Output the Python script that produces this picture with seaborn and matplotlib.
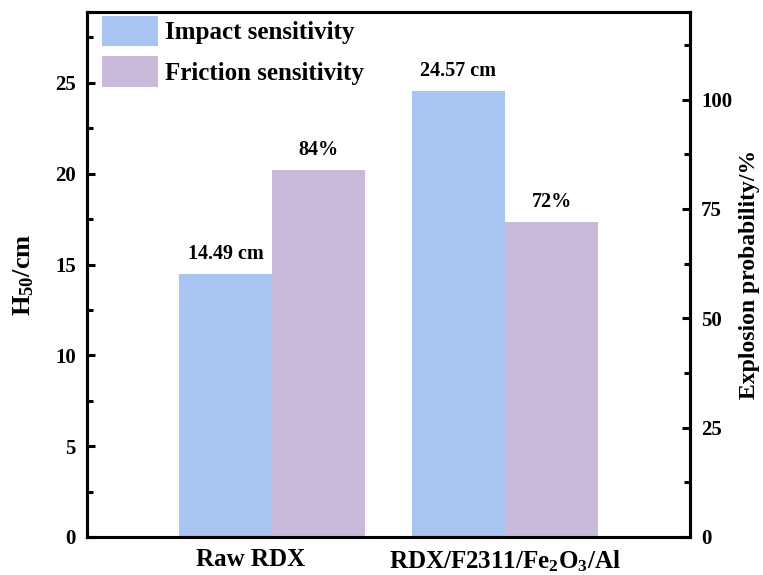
import matplotlib
matplotlib.use("Agg")
import matplotlib.pyplot as plt
import seaborn as sns
import pandas as pd
from matplotlib.patches import Patch
from matplotlib.ticker import MultipleLocator

samples = ["Raw RDX", r"RDX/F2311/Fe$_2$O$_3$/Al"]
impact_h50 = [14.49, 24.57]          # H50, cm
friction_prob = [84, 72]             # explosion probability, %
metrics = ["Impact sensitivity", "Friction sensitivity"]
impact_labels = ["14.49 cm", "24.57 cm"]
friction_labels = ["84%", "72%"]
# category tick texts (first one padded so it sits a little left of its group)
tick_texts = ["Raw RDX       ", r"RDX/F2311/Fe$_2$O$_3$/Al"]

colors = {"Impact sensitivity": "#A7C4F2", "Friction sensitivity": "#C9B9DB"}

sns.set_theme(style="white")
plt.rcParams["font.family"] = ["Liberation Serif", "DejaVu Serif"]
plt.rcParams["font.weight"] = "bold"
plt.rcParams["text.color"] = "black"
plt.rcParams["axes.labelcolor"] = "black"
plt.rcParams["xtick.color"] = "black"
plt.rcParams["ytick.color"] = "black"
plt.rcParams["mathtext.fontset"] = "custom"
plt.rcParams["mathtext.rm"] = "Liberation Serif:bold"
plt.rcParams["mathtext.it"] = "Liberation Serif:bold"
plt.rcParams["mathtext.bf"] = "Liberation Serif:bold"
plt.rcParams["mathtext.default"] = "rm"

df_imp = pd.DataFrame({"sample": samples, "metric": metrics[0], "value": impact_h50})
df_fric = pd.DataFrame({"sample": samples, "metric": metrics[1], "value": friction_prob})

fig = plt.figure(figsize=(7.63, 5.75), dpi=100)
ax1 = fig.add_axes([87 / 763, 1 - 537 / 575, (690 - 87) / 763, (537 - 12) / 575])
ax2 = ax1.twinx()

sns.barplot(data=df_imp, x="sample", y="value", hue="metric", hue_order=metrics,
            order=samples, palette=colors, dodge=True, width=0.8, ax=ax1,
            saturation=1, legend=False, linewidth=0)
sns.barplot(data=df_fric, x="sample", y="value", hue="metric", hue_order=metrics,
            order=samples, palette=colors, dodge=True, width=0.8, ax=ax2,
            saturation=1, legend=False, linewidth=0)

ax1.set_xlim(-0.794, 1.794)
ax1.set_ylim(0, 28.9)
ax2.set_ylim(0, 120)


def label_bars(ax, labels):
    bars = sorted([p for p in ax.patches if p.get_height() > 0], key=lambda p: p.get_x())
    for p, text in zip(bars, labels):
        ax.annotate(text, (p.get_x() + p.get_width() / 2, p.get_height()),
                    xytext=(0, 7), textcoords="offset points", ha="center", va="bottom",
                    fontsize=14.5, fontweight="bold", color="black")


label_bars(ax1, impact_labels)
label_bars(ax2, friction_labels)

ax1.set_xlabel("")
ax1.set_xticks(range(len(samples)))
ax1.set_xticklabels(tick_texts)
ax1.set_ylabel(r"H$_{50}$/cm", fontsize=19, fontweight="bold", labelpad=14)
ax2.set_ylabel("Explosion probability/%", fontsize=17, fontweight="bold", labelpad=5)

ax1.yaxis.set_major_locator(MultipleLocator(5))
ax1.yaxis.set_minor_locator(MultipleLocator(2.5))
ax2.yaxis.set_major_locator(MultipleLocator(25))
ax2.yaxis.set_minor_locator(MultipleLocator(12.5))

ax1.tick_params(axis="y", which="major", direction="in", length=6, width=2.2,
                labelsize=15, pad=8, left=True, right=False)
ax1.tick_params(axis="y", which="minor", direction="in", length=4, width=2.2, left=True)
ax2.tick_params(axis="y", which="major", direction="in", length=6, width=2.2,
                labelsize=15, pad=8, right=True)
ax2.tick_params(axis="y", which="minor", direction="in", length=4, width=2.2, right=True)
ax1.tick_params(axis="x", length=0, labelsize=18, pad=8)
for lab in ax1.get_xticklabels() + ax1.get_yticklabels() + ax2.get_yticklabels():
    lab.set_fontweight("bold")

for ax in (ax1, ax2):
    for s in ax.spines.values():
        s.set_linewidth(2.2)
        s.set_color("black")
        s.set_visible(True)

handles = [Patch(facecolor=colors[m], edgecolor="none") for m in metrics]
ax1.legend(handles, metrics, loc="upper left", bbox_to_anchor=(0.012, 1.007),
           frameon=False, prop={"weight": "bold", "size": 18},
           handlelength=2.25, handleheight=1.5, handletextpad=0.3,
           labelspacing=0.4, borderaxespad=0.15, borderpad=0.15)

fig.savefig("out.png", dpi=100)
